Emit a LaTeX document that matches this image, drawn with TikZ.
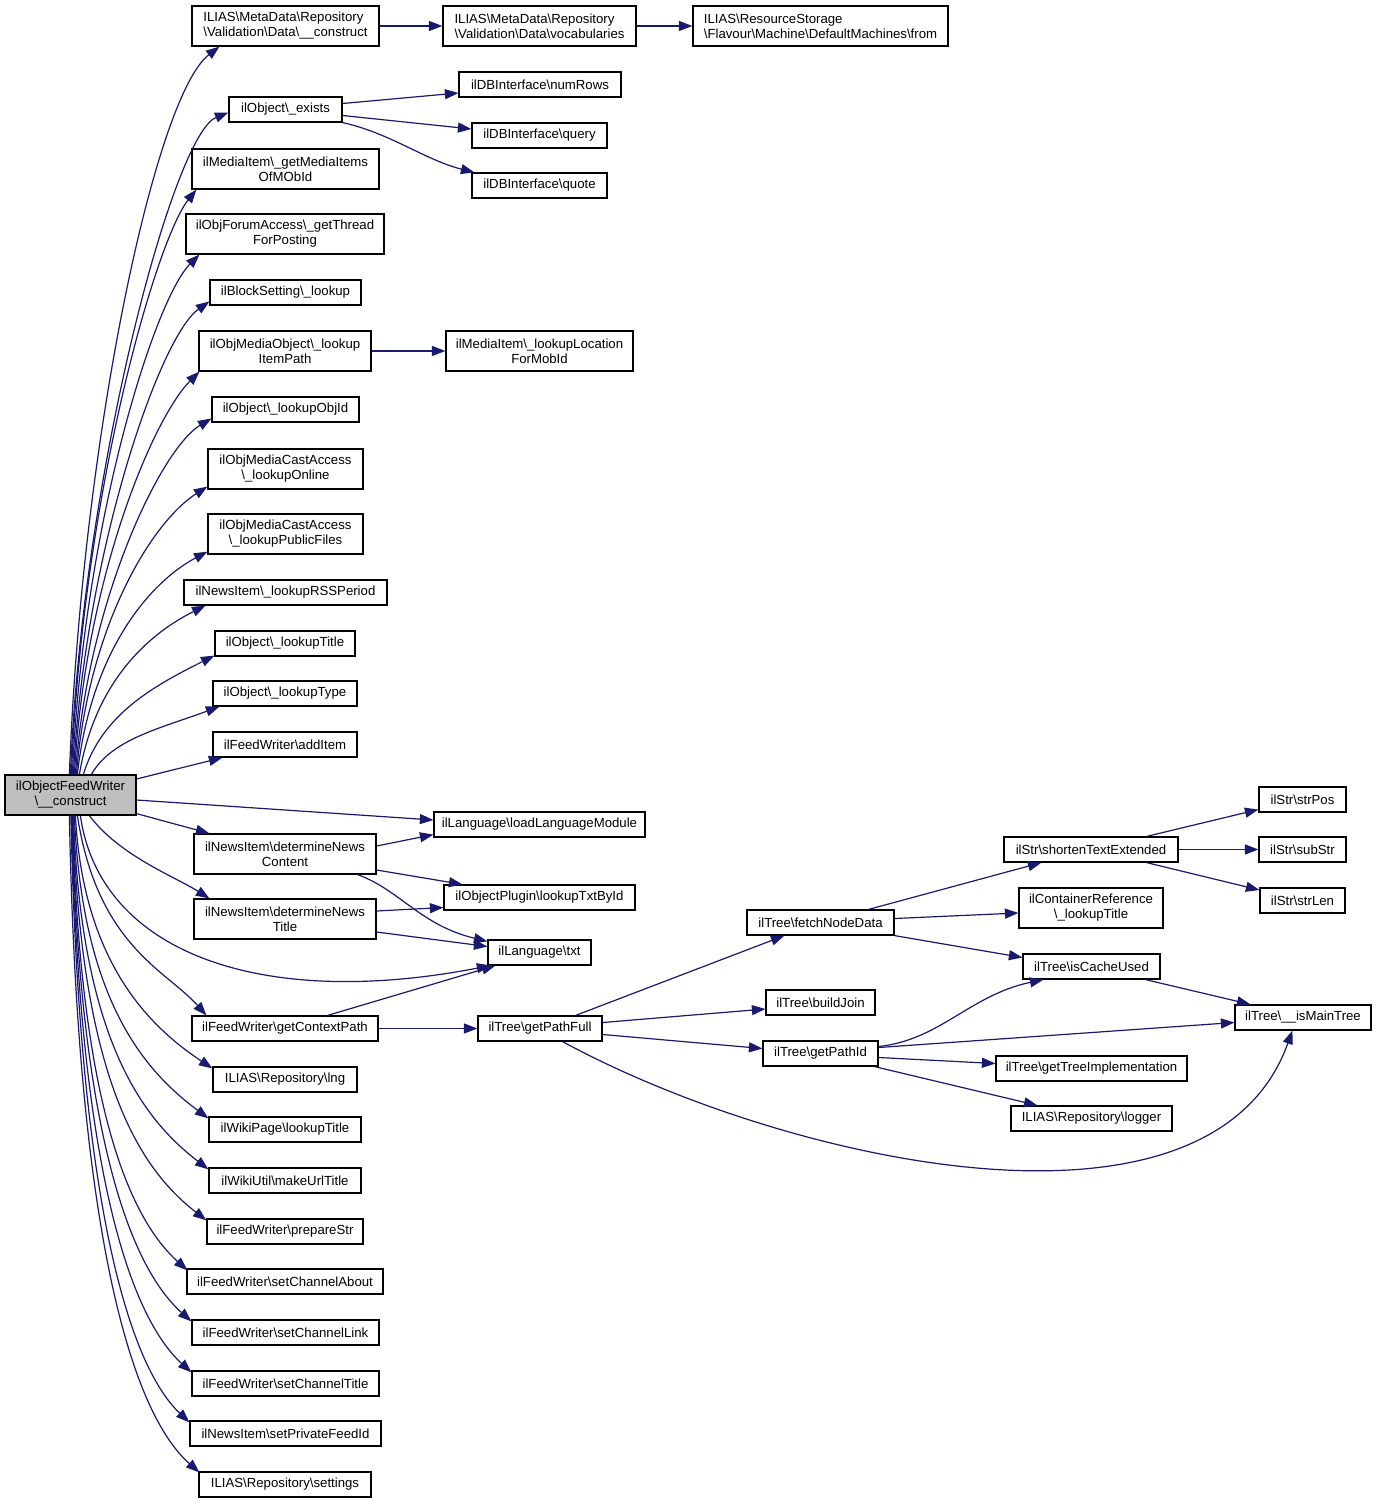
\documentclass[tikz,border=0pt]{standalone}
\usepackage{fontspec}
\setmainfont{Liberation Sans}
\usetikzlibrary{arrows.meta,calc}
\definecolor{edgecol}{HTML}{191970}
\definecolor{maingray}{HTML}{BFBFBF}
\newcommand{\bsl}{\textbackslash}
\begin{document}
\begin{tikzpicture}[x=1pt,y=-1pt,
  box/.style={draw=black, line width=1.2pt, fill=white, inner sep=0pt, align=center,
    font=\fontsize{13.2}{15}\selectfont},
  lbox/.style={box, align=left},
  edge/.style={draw=edgecol, line width=1.2pt, -{Triangle[length=13.5pt,width=10pt]}}]
\useasboundingbox[fill=white] (0,0) rectangle (1376,1503);
% ---- nodes ----
\node[box, fill=maingray, minimum width=131pt, minimum height=40pt] (main) at (70.5,795) {ilObjectFeedWriter\\\bsl\_\_construct};
\node[lbox, minimum width=187pt, minimum height=40pt] (mdc) at (285.5,26) {ILIAS\bsl{}MetaData\bsl{}Repository\\\bsl{}Validation\bsl{}Data\bsl\_\_construct};
\node[lbox, minimum width=193pt, minimum height=40pt] (vocab) at (539.5,26) {ILIAS\bsl{}MetaData\bsl{}Repository\\\bsl{}Validation\bsl{}Data\bsl{}vocabularies};
\node[lbox, minimum width=255pt, minimum height=40pt] (from) at (820.5,26) {ILIAS\bsl{}ResourceStorage\\\bsl{}Flavour\bsl{}Machine\bsl{}DefaultMachines\bsl{}from};
\node[box, minimum width=113pt, minimum height=25pt] (exists) at (285.5,109.5) {ilObject\bsl\_exists};
\node[box, minimum width=162pt, minimum height=25pt] (numrows) at (540,84.5) {ilDBInterface\bsl{}numRows};
\node[box, minimum width=135pt, minimum height=25pt] (query) at (539.5,135.5) {ilDBInterface\bsl{}query};
\node[box, minimum width=135pt, minimum height=25pt] (quote) at (539.5,185.5) {ilDBInterface\bsl{}quote};
\node[box, minimum width=187pt, minimum height=40pt] (gmi) at (285.5,169) {ilMediaItem\bsl\_getMediaItems\\OfMObId};
\node[box, minimum width=198pt, minimum height=40pt] (gtp) at (285,234) {ilObjForumAccess\bsl\_getThread\\ForPosting};
\node[box, minimum width=151pt, minimum height=25pt] (bsl) at (285.5,292.5) {ilBlockSetting\bsl\_lookup};
\node[box, minimum width=172pt, minimum height=40pt] (lip) at (285,351) {ilObjMediaObject\bsl\_lookup\\ItemPath};
\node[box, minimum width=187pt, minimum height=40pt] (llf) at (539.5,351) {ilMediaItem\bsl\_lookupLocation\\ForMobId};
\node[box, minimum width=147pt, minimum height=25pt] (loi) at (285.5,409.5) {ilObject\bsl\_lookupObjId};
\node[box, minimum width=155pt, minimum height=40pt] (lon) at (285.5,469) {ilObjMediaCastAccess\\\bsl\_lookupOnline};
\node[box, minimum width=155pt, minimum height=40pt] (lpf) at (285.5,534) {ilObjMediaCastAccess\\\bsl\_lookupPublicFiles};
\node[box, minimum width=203pt, minimum height=25pt] (rss) at (285.5,592.5) {ilNewsItem\bsl\_lookupRSSPeriod};
\node[box, minimum width=140pt, minimum height=25pt] (lti) at (285,643.5) {ilObject\bsl\_lookupTitle};
\node[box, minimum width=144pt, minimum height=25pt] (lty) at (285,693.5) {ilObject\bsl\_lookupType};
\node[box, minimum width=144pt, minimum height=25pt] (add) at (285,744.5) {ilFeedWriter\bsl{}addItem};
\node[box, minimum width=182pt, minimum height=40pt] (dnc) at (285,854) {ilNewsItem\bsl{}determineNews\\Content};
\node[box, minimum width=182pt, minimum height=40pt] (dnt) at (285,919) {ilNewsItem\bsl{}determineNews\\Title};
\node[box, minimum width=186pt, minimum height=25pt] (gcp) at (285,1028.5) {ilFeedWriter\bsl{}getContextPath};
\node[box, minimum width=144pt, minimum height=25pt] (lng) at (285,1079.5) {ILIAS\bsl{}Repository\bsl{}lng};
\node[box, minimum width=152pt, minimum height=25pt] (wpl) at (285,1129.5) {ilWikiPage\bsl{}lookupTitle};
\node[box, minimum width=152pt, minimum height=25pt] (wum) at (285,1180.5) {ilWikiUtil\bsl{}makeUrlTitle};
\node[box, minimum width=156pt, minimum height=25pt] (pst) at (285,1231.5) {ilFeedWriter\bsl{}prepareStr};
\node[box, minimum width=196pt, minimum height=25pt] (sca) at (285,1281.5) {ilFeedWriter\bsl{}setChannelAbout};
\node[box, minimum width=187pt, minimum height=25pt] (scl) at (285.5,1332.5) {ilFeedWriter\bsl{}setChannelLink};
\node[box, minimum width=187pt, minimum height=25pt] (sct) at (285.5,1383.5) {ilFeedWriter\bsl{}setChannelTitle};
\node[box, minimum width=191pt, minimum height=25pt] (spf) at (285.5,1433.5) {ilNewsItem\bsl{}setPrivateFeedId};
\node[box, minimum width=172pt, minimum height=25pt] (set) at (285,1484.5) {ILIAS\bsl{}Repository\bsl{}settings};
\node[box, minimum width=211pt, minimum height=25pt] (llm) at (539.5,824.5) {ilLanguage\bsl{}loadLanguageModule};
\node[box, minimum width=191pt, minimum height=25pt] (ltb) at (539.5,897.5) {ilObjectPlugin\bsl{}lookupTxtById};
\node[box, minimum width=103pt, minimum height=25pt] (txt) at (539.5,952.5) {ilLanguage\bsl{}txt};
\node[box, minimum width=124pt, minimum height=25pt] (gpf) at (540,1028.5) {ilTree\bsl{}getPathFull};
\node[box, minimum width=147pt, minimum height=25pt] (fnd) at (820.5,922.5) {ilTree\bsl{}fetchNodeData};
\node[box, minimum width=109pt, minimum height=25pt] (bj) at (820.5,1002.5) {ilTree\bsl{}buildJoin};
\node[box, minimum width=115pt, minimum height=25pt] (gpi) at (820.5,1053.5) {ilTree\bsl{}getPathId};
\node[box, minimum width=174pt, minimum height=25pt] (ste) at (1091,849.5) {ilStr\bsl{}shortenTextExtended};
\node[box, minimum width=144pt, minimum height=40pt] (clt) at (1091,908) {ilContainerReference\\\bsl\_lookupTitle};
\node[box, minimum width=137pt, minimum height=25pt] (icu) at (1091.5,966.5) {ilTree\bsl{}isCacheUsed};
\node[box, minimum width=191pt, minimum height=25pt] (gti) at (1091.5,1068.5) {ilTree\bsl{}getTreeImplementation};
\node[box, minimum width=161pt, minimum height=25pt] (log) at (1091.5,1118.5) {ILIAS\bsl{}Repository\bsl{}logger};
\node[box, minimum width=87pt, minimum height=25pt] (spo) at (1302.5,799.5) {ilStr\bsl{}strPos};
\node[box, minimum width=87pt, minimum height=25pt] (sst) at (1302.5,849.5) {ilStr\bsl{}subStr};
\node[box, minimum width=85pt, minimum height=25pt] (sle) at (1302.5,900.5) {ilStr\bsl{}strLen};
\node[box, minimum width=136pt, minimum height=25pt] (imt) at (1303,1017.5) {ilTree\bsl\_\_isMainTree};
% ---- edges from main, upward ----
\draw[edge] ($(main.north west)+(65,0)$) .. controls +(12,-330) and +(-65,50) .. ($(mdc.south west)+(28,0)$);
\draw[edge] ($(main.north west)+(66,0)$) .. controls +(12,-300) and +(-55,22) .. ($(exists.west)+(0,3)$);
\draw[edge] ($(main.north west)+(67,0)$) .. controls +(11,-280) and +(-40,50) .. ($(gmi.south west)+(5,0)$);
\draw[edge] ($(main.north west)+(68,0)$) .. controls +(11,-250) and +(-45,45) .. ($(gtp.south west)+(14,0)$);
\draw[edge] ($(main.north west)+(69,0)$) .. controls +(11,-220) and +(-50,35) .. ($(bsl.west)+(0,9)$);
\draw[edge] ($(main.north west)+(70,0)$) .. controls +(11,-200) and +(-45,45) .. ($(lip.south west)+(1,0)$);
\draw[edge] ($(main.north west)+(71,0)$) .. controls +(12,-175) and +(-50,30) .. ($(loi.west)+(0,9)$);
\draw[edge] ($(main.north west)+(72,0)$) .. controls +(12,-150) and +(-55,35) .. ($(lon.south west)+(0,-3)$);
\draw[edge] ($(main.north west)+(73,0)$) .. controls +(13,-120) and +(-60,32) .. ($(lpf.south west)+(0,-3)$);
\draw[edge] ($(main.north west)+(75,0)$) .. controls +(15,-90) and +(-60,30) .. ($(rss.south west)+(22,0)$);
\draw[edge] ($(main.north west)+(79,0)$) .. controls +(18,-60) and +(-60,30) .. ($(lti.south west)+(0,-1)$);
\draw[edge] ($(main.north west)+(87,0)$) .. controls +(20,-35) and +(-60,22) .. ($(lty.south west)+(7,0)$);
\draw[edge] ($(main.east)+(0,-16)$) -- ($(add.south west)+(10,0)$);
% ---- edges from main, right and downward ----
\draw[edge] ($(main.east)+(0,5)$) -- ($(llm.west)+(0,-4.5)$);
\draw[edge] ($(main.south east)+(0,-2)$) -- ($(dnc.north west)+(16,0)$);
\draw[edge] ($(main.south west)+(85,0)$) .. controls +(30,40) and +(-35,-22) .. ($(dnt.north west)+(16,0)$);
\draw[edge] ($(main.south west)+(76,0)$) .. controls +(19,135) and +(-233,45) .. ($(txt.south west)+(3,0)$);
\draw[edge] ($(main.south west)+(73,0)$) .. controls +(20,130) and +(-40,-45) .. ($(gcp.north west)+(15,0)$);
\draw[edge] ($(main.south west)+(71,0)$) .. controls +(8,150) and +(-60,-40) .. ($(lng.north west)+(0,2)$);
\draw[edge] ($(main.south west)+(70,0)$) .. controls +(8,190) and +(-60,-45) .. ($(wpl.north west)+(0,2)$);
\draw[edge] ($(main.south west)+(69,0)$) .. controls +(8,230) and +(-62,-48) .. ($(wum.north west)+(0,2)$);
\draw[edge] ($(main.south west)+(68.5,0)$) .. controls +(8,270) and +(-64,-50) .. ($(pst.north west)+(0,2)$);
\draw[edge] ($(main.south west)+(68,0)$) .. controls +(8,300) and +(-55,-50) .. ($(sca.north west)+(1,2)$);
\draw[edge] ($(main.south west)+(67.5,0)$) .. controls +(8,330) and +(-58,-52) .. ($(scl.north west)+(0,2)$);
\draw[edge] ($(main.south west)+(67,0)$) .. controls +(8,360) and +(-60,-55) .. ($(sct.north west)+(0,2)$);
\draw[edge] ($(main.south west)+(66.5,0)$) .. controls +(8,390) and +(-60,-57) .. ($(spf.north west)+(0,2)$);
\draw[edge] ($(main.south west)+(65,0)$) .. controls +(8,420) and +(-68,-60) .. ($(set.north west)+(1,1)$);
% ---- other edges ----
\draw[edge] (mdc.east) -- (vocab.west);
\draw[edge] (vocab.east) -- (from.west);
\draw[edge] ($(exists.east)+(0,-6)$) -- ($(numrows.west)+(0,8.5)$);
\draw[edge] ($(exists.east)+(0,6)$) -- ($(query.west)+(0,-6.5)$);
\draw[edge] (exists.south east) .. controls (390,133) and (425,160) .. ($(quote.north west)+(3,0)$);
\draw[edge] (lip.east) -- (llf.west);
\draw[edge] ($(dnc.east)+(0,-8)$) -- ($(llm.south west)+(0,-3)$);
\draw[edge] ($(dnc.east)+(0,16)$) -- ($(ltb.north west)+(19,0)$);
\draw[edge] ($(dnc.south east)+(-19,0)$) .. controls (400,890) and (420,925) .. ($(txt.north west)+(0,2)$);
\draw[edge] ($(dnt.east)+(0,-8)$) -- ($(ltb.west)+(0,10)$);
\draw[edge] ($(dnt.east)+(0,13)$) -- ($(txt.west)+(0,-6)$);
\draw[edge] ($(gcp.north east)+(-51,0)$) -- ($(txt.south west)+(8,0)$);
\draw[edge] (gcp.east) -- (gpf.west);
\draw[edge] ($(gpf.north east)+(-27,0)$) -- ($(fnd.south west)+(38,0)$);
\draw[edge] ($(gpf.east)+(0,-6)$) -- ($(bj.west)+(0,6.5)$);
\draw[edge] ($(gpf.east)+(0,6)$) -- ($(gpi.west)+(0,-5)$);
\draw[edge] ($(gpf.south east)+(-40,0)$) .. controls (780,1160) and (1210,1260) .. ($(imt.south west)+(58,0)$);
\draw[edge] ($(fnd.north east)+(-26,0)$) -- ($(ste.south west)+(38,0)$);
\draw[edge] ($(fnd.east)+(0,-4)$) -- ($(clt.west)+(0,5)$);
\draw[edge] (fnd.south east) -- ($(icu.west)+(0,-9)$);
\draw[edge] ($(ste.north east)+(-32,0)$) -- ($(spo.west)+(0,10)$);
\draw[edge] (ste.east) -- (sst.west);
\draw[edge] ($(ste.south east)+(-32,0)$) -- ($(sle.west)+(0,-10.5)$);
\draw[edge] ($(icu.south east)+(-15,0)$) -- ($(imt.north west)+(16,0)$);
\draw[edge] ($(gpi.east)+(0,-7)$) .. controls (940,1040) and (970,995) .. ($(icu.south west)+(21,0)$);
\draw[edge] ($(gpi.east)+(0,-6)$) -- ($(imt.west)+(0,5)$);
\draw[edge] ($(gpi.east)+(0,4)$) -- ($(gti.west)+(0,-5)$);
\draw[edge] ($(gpi.south east)+(-4,0)$) -- ($(log.north west)+(27,0)$);
\end{tikzpicture}
\end{document}
